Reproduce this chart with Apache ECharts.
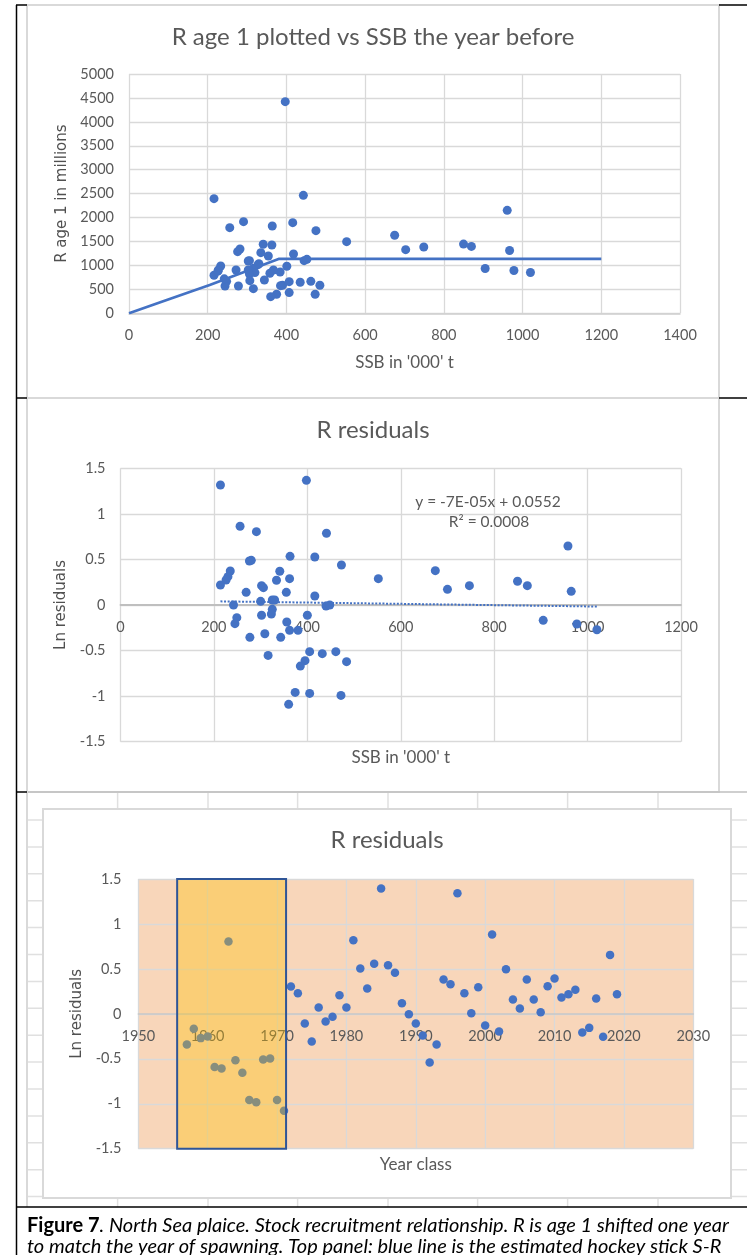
<!DOCTYPE html>
<html><head><meta charset="utf-8">
<script src="https://cdn.jsdelivr.net/npm/echarts@6/dist/echarts.min.js"></script>
<style>html,body{margin:0;padding:0;background:#fff}#c{width:747px;height:1255px}</style>
</head><body><div id="c"></div>
<script>
// ---------- Panel 1: R age 1 vs SSB the year before ----------
const ssbTop = [397,216,443,256,291,364,416,475,553,675,703,749,341,363,276,282,335,354,418,445,452,401,384,358,367,303,328,316,303,320,306,272,233,227,216,248,244,278,307,316,344,390,407,435,462,485,473,407,375,360,850,870,961,967,905,978,1020,226,306,330,242,385];
const rAge1 = [4422,2396,2465,1790,1915,1825,1894,1727,1497,1630,1330,1386,1442,1428,1288,1344,1267,1198,1240,1100,1128,982,864,836,905,1093,1017,940,905,850,822,905,989,905,794,668,571,571,682,515,696,585,661,648,668,585,397,432,397,348,1446,1397,2151,1313,936,894,852,880,1100,1036,720,578];
const hockeySsb = [0,85,205,380,1200];
const hockeyR = [0,245,590,1135,1135];

// ---------- Panel 2: residuals vs SSB ----------
const ssbRes = [214,398,256,291,441,363,416,958,473,276,280,341,235,230,226,334,362,552,674,700,747,850,871,965,214,302,306,269,355,416,300,325,330,242,440,448,325,323,302,400,249,245,356,362,380,309,277,343,905,977,1020,316,405,432,461,395,385,484,374,405,472,360];
const lnResSsb = [1.317,1.368,0.864,0.805,0.787,0.534,0.527,0.648,0.439,0.483,0.490,0.370,0.373,0.311,0.274,0.271,0.289,0.289,0.377,0.172,0.212,0.260,0.212,0.150,0.220,0.212,0.190,0.139,0.139,0.099,0.040,0.055,0.055,0,-0.011,0,-0.048,-0.099,-0.113,-0.113,-0.139,-0.205,-0.187,-0.278,-0.278,-0.315,-0.355,-0.355,-0.168,-0.209,-0.271,-0.553,-0.512,-0.534,-0.512,-0.611,-0.670,-0.622,-0.959,-0.970,-0.992,-1.090];
const trendSsb = [214,1020];
const trendRes = [0.040,-0.017];

// ---------- Panel 3: residuals by year class ----------
const yearClass = [1957,1958,1959,1960,1961,1962,1963,1964,1965,1966,1967,1968,1969,1970,1971,1972,1973,1974,1975,1976,1977,1978,1979,1980,1981,1982,1983,1984,1985,1986,1987,1988,1989,1990,1991,1992,1993,1994,1995,1996,1997,1998,1999,2000,2001,2002,2003,2004,2005,2006,2007,2008,2009,2010,2011,2012,2013,2014,2015,2016,2017,2018,2019];
const lnResYear = [-0.341,-0.167,-0.27,-0.252,-0.59,-0.608,0.805,-0.515,-0.656,-0.957,-0.983,-0.508,-0.497,-0.957,-1.079,0.304,0.23,-0.108,-0.308,0.07,-0.085,-0.033,0.208,0.07,0.819,0.504,0.282,0.556,1.394,0.541,0.456,0.119,-0.004,-0.108,-0.241,-0.541,-0.341,0.382,0.33,1.342,0.23,0.007,0.297,-0.13,0.882,-0.197,0.497,0.159,0.059,0.382,0.159,0.019,0.308,0.393,0.182,0.219,0.267,-0.208,-0.156,0.171,-0.256,0.656,0.219];
const highlightYears = [1955.6, 1971.3];

// axis ranges [min, max, interval]
const xRange1 = [0,1400,200], yRange1 = [0,5000,500];
const xRange2 = [0,1200,200], yRange2 = [-1.5,1.5,0.5];
const xRange3 = [1950,2030,10], yRange3 = [-1.5,1.5,0.5];

const FONT = 'Lato', TXT = '#595959', GRIDC = '#d9d9d9', BLUE = '#4472C4';
const zip = (a,b) => a.map((v,i)=>[v,b[i]]);

const grids = [
  {left:129, top:74, width:551, height:239.3},
  {left:120.5, top:468.3, width:560.5, height:273.4},
  {left:138.3, top:879, width:555, height:269.7}
];
// offset that moves an x axis from the grid bottom up to y = 0
const zeroOffset = (g, r) => -g.height * (0 - r[0]) / (r[1] - r[0]);

function axis(gi, r, extra){
  return Object.assign({
    gridIndex: gi, type:'value', min:r[0], max:r[1], interval:r[2],
    axisTick:{show:false},
    axisLine:{show:false, onZero:false},
    splitLine:{show:true, lineStyle:{color:GRIDC, width:1.3}},
    axisLabel:{color:TXT, fontFamily:FONT, fontSize:14.5, margin:15, formatter: v => String(v)},
    nameTextStyle:{color:TXT, fontFamily:FONT, fontSize:17}
  }, extra);
}

const chart = echarts.init(document.getElementById('c'), null, {renderer:'canvas'});

const graphics = [];
function line(x1,y1,x2,y2,color,w,z){graphics.push({type:'line',silent:true,z:z==null?-5:z,shape:{x1,y1,x2,y2},style:{stroke:color,lineWidth:w}});}
function rect(x,y,w,h,fill,stroke,lw,z){graphics.push({type:'rect',silent:true,z:z==null?-5:z,shape:{x,y,width:w,height:h},style:{fill,stroke,lineWidth:lw}});}
// Excel cell grid behind the third chart
[117.6,208,297.6,388,477.6,567.6,658].forEach(x=>line(x,793,x,1207,'#e0e0e0',1.5,-8));
for(let y=820;y<1207;y+=26.9) line(27,y,747,y,'#e0e0e0',1.5,-8);
rect(43,809,688,389,'#ffffff',GRIDC,2,-6);
// chart frames
rect(27,5,692,393,'#ffffff',GRIDC,2,-6);
rect(27,398,692,394,'#ffffff',GRIDC,2,-6);
line(27,792,747,792,'#bfbfbf',1.5,-4);
line(27,5,27,1207,GRIDC,2,-4);
// black table lines
line(16.5,5,16.5,1255,'#000',1.5,-3);
[5,398].forEach(y=>{line(16,y,27,y,'#000',1.5,-3);line(719,y,747,y,'#000',1.5,-3);});
line(16,792,27,792,'#000',1.5,-3);
line(16,1207,747,1207,'#000',1.5,-3);
// titles and annotation
function text(t,x,y,size,extra){graphics.push({type:'text',z:10,x,y,style:Object.assign({text:t,fill:TXT,font:size+'px '+FONT,align:'center',verticalAlign:'middle'},extra||{})});}
text('R age 1 plotted vs SSB the year before',373,37,24);
text('R residuals',373,430,24);
text('R residuals',387,840,24);
text('y = -7E-05x + 0.0552',488,502,15.5);
text('R\u00b2 = 0.0008',489,522,15.5);
// caption
graphics.push({type:'text',z:10,x:27,y:1226,style:{
  text:'{b|Figure 7}{i|. North Sea plaice. Stock recruitment relationship. R is age 1 shifted one year}',
  verticalAlign:'middle',align:'left',
  rich:{b:{fontFamily:FONT,fontSize:20,fontWeight:'bold',fill:'#000',fontStyle:'normal'},
        i:{fontFamily:FONT,fontSize:20,fontStyle:'italic',fill:'#000'}}}});
graphics.push({type:'text',z:10,x:27,y:1247,style:{
  text:'to match the year of spawning. Top panel: blue line is the estimated hockey stick S-R',
  verticalAlign:'middle',align:'left',fill:'#000',font:'italic 20px '+FONT}});

const yNameStyle = {color:'#505050', fontFamily:'DejaVu Sans', fontSize:15};

const option = {
  animation:false,
  backgroundColor:'#ffffff',
  graphic:{elements:graphics},
  grid:[
    Object.assign({outerBoundsMode:'none'}, grids[0]),
    Object.assign({outerBoundsMode:'none'}, grids[1]),
    Object.assign({outerBoundsMode:'none', show:true, backgroundColor:'#F8D6BA', borderWidth:0}, grids[2])
  ],
  xAxis:[
    axis(0,xRange1,{axisLine:{show:true,onZero:false,lineStyle:{color:'#d0d0d0',width:1.5}}, name:"SSB in '000' t", nameLocation:'middle', nameGap:41}),
    axis(1,xRange2,{offset:zeroOffset(grids[1],yRange2), axisLine:{show:true,onZero:false,lineStyle:{color:'#bfbfbf',width:1.8}}, name:"SSB in '000' t", nameLocation:'middle', nameGap:144}),
    axis(2,xRange3,{offset:zeroOffset(grids[2],yRange3), axisLine:{show:true,onZero:false,lineStyle:{color:'#c8c8c8',width:1.5}}, name:'Year class', nameLocation:'middle', nameGap:142})
  ],
  yAxis:[
    axis(0,yRange1,{name:'R age 1 in millions', nameLocation:'middle', nameRotate:90, nameGap:57, nameTextStyle:yNameStyle}),
    axis(1,yRange2,{name:'Ln residuals', nameLocation:'middle', nameRotate:90, nameGap:50, nameTextStyle:yNameStyle}),
    axis(2,yRange3,{name:'Ln residuals', nameLocation:'middle', nameRotate:90, nameGap:51, nameTextStyle:yNameStyle,
      axisLabel:{color:TXT,fontFamily:FONT,fontSize:14.5,margin:17,formatter:v=>String(v)}})
  ],
  series:[
    {type:'line', xAxisIndex:0, yAxisIndex:0, data:zip(hockeySsb,hockeyR), showSymbol:false, symbol:'none', lineStyle:{color:BLUE,width:2.75}, z:2},
    {type:'scatter', xAxisIndex:0, yAxisIndex:0, data:zip(ssbTop,rAge1), symbolSize:9, itemStyle:{color:BLUE,opacity:1}, z:3},
    {type:'line', xAxisIndex:1, yAxisIndex:1, data:zip(trendSsb,trendRes), showSymbol:false, symbol:'none', lineStyle:{color:BLUE,width:2,type:[2,1.6]}, z:2},
    {type:'scatter', xAxisIndex:1, yAxisIndex:1, data:zip(ssbRes,lnResSsb), symbolSize:9, itemStyle:{color:BLUE,opacity:1}, z:3},
    {type:'scatter', xAxisIndex:2, yAxisIndex:2, data:zip(yearClass,lnResYear), symbolSize:8.5, itemStyle:{color:BLUE,opacity:1}, z:3},
    {type:'line', xAxisIndex:2, yAxisIndex:2, data:[], z:5,
      markArea:{silent:true, z:10, itemStyle:{color:'rgba(255,192,0,0.36)', borderColor:'#2F5597', borderWidth:2},
        data:[[{xAxis:highlightYears[0], yAxis:yRange3[1]},{xAxis:highlightYears[1], yAxis:yRange3[0]}]]}}
  ]
};
chart.setOption(option);
</script></body></html>
